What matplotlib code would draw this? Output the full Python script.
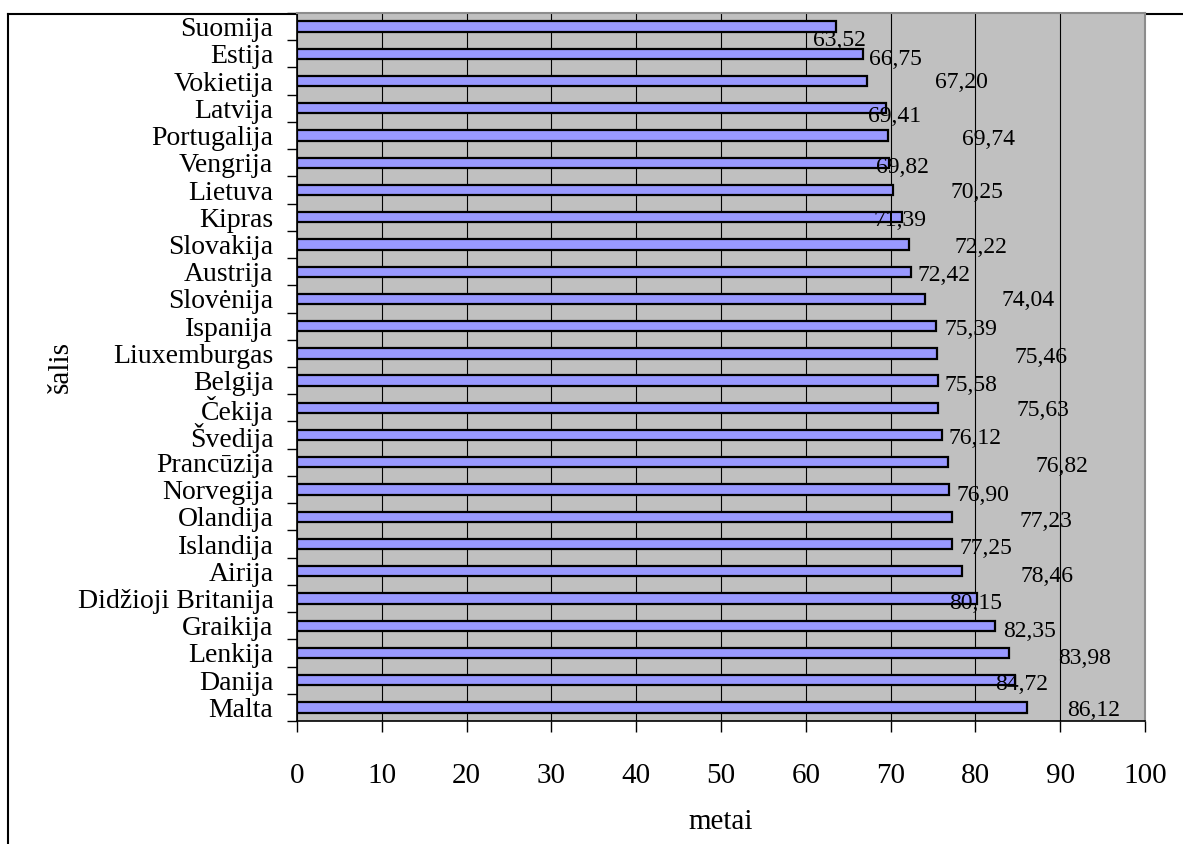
import matplotlib
matplotlib.use("Agg")
import matplotlib.pyplot as plt
from matplotlib.lines import Line2D
import numpy as np

# Countries (top to bottom) and average age in years
countries = [
    "Suomija", "Estija", "Vokietija", "Latvija", "Portugalija", "Vengrija",
    "Lietuva", "Kipras", "Slovakija", "Austrija", "Slovėnija", "Ispanija",
    "Liuxemburgas", "Belgija", "Čekija", "Švedija", "Prancūzija", "Norvegija",
    "Olandija", "Islandija", "Airija", "Didžioji Britanija", "Graikija",
    "Lenkija", "Danija", "Malta",
]
values = [
    63.52, 66.75, 67.20, 69.41, 69.74, 69.82, 70.25, 71.39, 72.22, 72.42,
    74.04, 75.39, 75.46, 75.58, 75.63, 76.12, 76.82, 76.90, 77.23, 77.25,
    78.46, 80.15, 82.35, 83.98, 84.72, 86.12,
]
x_ticks = [0, 10, 20, 30, 40, 50, 60, 70, 80, 90, 100]

# Where each value label sits (x in data units, y shift in rows)
label_x = [
    64.0, 70.6, 78.3, 70.5, 81.5, 71.4, 80.2, 71.1, 80.6, 76.3,
    86.2, 79.5, 87.7, 79.5, 88.0, 80.0, 90.2, 80.9, 88.3, 81.3,
    88.4, 80.0, 86.4, 92.9, 85.4, 94.0,
]
label_dy = [
    0.42, 0.12, -0.04, 0.21, 0.06, 0.09, 0.0, 0.04, 0.02, 0.06,
    -0.02, 0.04, 0.07, 0.07, 0.02, 0.05, 0.08, 0.11, 0.07, 0.06,
    0.09, 0.08, 0.11, 0.10, 0.06, 0.01,
]

plt.rcParams["font.family"] = ["Liberation Serif", "DejaVu Serif"]

W, H = 1183, 844
fig = plt.figure(figsize=(W / 100, H / 100), dpi=100)
fig.patch.set_facecolor("white")

# Outer chart frame (left and top edges)
fig.add_artist(Line2D([8 / W, 8 / W], [0, 1 - 13.5 / H], transform=fig.transFigure,
                      color="black", lw=1.5, zorder=-1))
fig.add_artist(Line2D([8 / W, 1], [1 - 13.5 / H, 1 - 13.5 / H], transform=fig.transFigure,
                      color="black", lw=1.5, zorder=-1))

left, right, top, bottom = 297, 1145, 13, 721
ax = fig.add_axes([left / W, 1 - bottom / H, (right - left) / W, (bottom - top) / H])
ax.set_facecolor("#c0c0c0")

pos = np.arange(len(countries))
ax.barh(pos, values, height=0.38, color="#9999ff", edgecolor="black",
        linewidth=1.6, zorder=3)

ax.set_xlim(0, 100)
ax.set_ylim(len(countries) - 0.5, -0.5)

ax.set_xticks(x_ticks)
ax.set_xticklabels([str(t) for t in x_ticks], fontsize=21)
ax.tick_params(axis="x", direction="out", length=8, width=1, pad=22, colors="black")

ax.set_yticks(pos)
ax.set_yticklabels(countries, fontsize=20)
ax.tick_params(axis="y", which="major", length=0, pad=17)
ax.set_yticks(np.arange(-0.5, len(countries), 1), minor=True)
ax.tick_params(axis="y", which="minor", direction="out", length=7.5, width=1)

ax.xaxis.grid(True, color="black", linewidth=0.8, zorder=1)
ax.set_axisbelow(True)

for side in ("left", "bottom"):
    ax.spines[side].set_color("black")
    ax.spines[side].set_linewidth(1.2)
for side in ("top", "right"):
    ax.spines[side].set_color("#8c8c8c")
    ax.spines[side].set_linewidth(1.5)

for i, v in enumerate(values):
    ax.text(label_x[i], i + label_dy[i], f"{v:.2f}".replace(".", ","),
            ha="center", va="center_baseline", fontsize=17, color="black", zorder=4)

ax.set_xlabel("metai", fontsize=21)
ax.xaxis.set_label_coords(0.5, -0.142)
ax.xaxis.label.set_verticalalignment("center")
ax.set_ylabel("šalis", fontsize=21)
ax.yaxis.set_label_coords((61 - left) / (right - left), 0.5)
ax.yaxis.label.set_verticalalignment("center")

fig.savefig("out.png", dpi=100, facecolor="white")
